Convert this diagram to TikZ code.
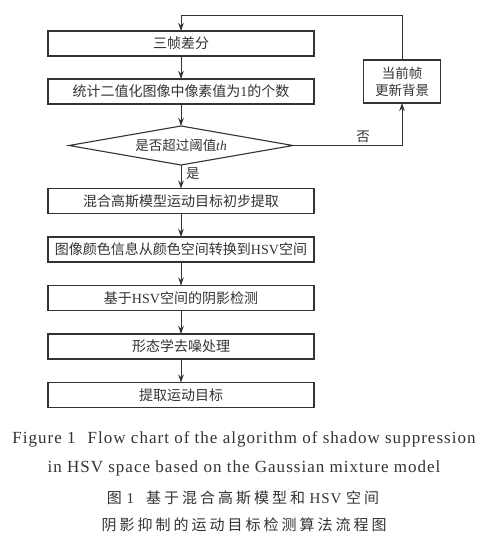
\documentclass[tikz,border=0pt]{standalone}
\usepackage{fontspec}
\setmainfont{Liberation Serif}
\newfontfamily\cjk{Noto Sans CJK SC}
\newfontfamily\cjkcap[LetterSpace=20]{Noto Sans CJK SC}
\newfontfamily\capfont[LetterSpace=6]{Liberation Serif}
\usetikzlibrary{shapes.geometric,arrows.meta}
\definecolor{ink}{HTML}{333333}
\tikzset{
  stepbox/.style={draw=ink, line width=1.2pt, minimum width=266pt, minimum height=25pt, inner sep=0pt, outer sep=0pt, font=\fontsize{14}{15}\selectfont\cjk, text=ink},
  sidebox/.style={draw=ink, line width=1.2pt, minimum width=77pt, minimum height=43pt, inner sep=0pt, outer sep=0pt, align=center, font=\fontsize{13.5}{17}\selectfont\cjk, text=ink},
  decision/.style={draw=ink, line width=1.1pt, diamond, aspect=5.74, minimum width=224pt, minimum height=39pt, inner sep=0pt, outer sep=0pt, font=\fontsize{13.5}{15}\selectfont\cjk, text=ink},
  flow/.style={draw=ink, line width=1pt, -{Stealth[length=8pt,width=5.5pt]}},
  lbl/.style={font=\fontsize{13.5}{15}\selectfont\cjk, text=ink, inner sep=0pt},
  capen/.style={font=\fontsize{17}{19}\selectfont\capfont, text=ink, inner sep=0pt},
  capcn/.style={font=\fontsize{15}{17}\selectfont\cjkcap, text=ink, inner sep=0pt}
}
\begin{document}
\begin{tikzpicture}[x=1pt,y=-1pt]
\useasboundingbox[fill=white] (0,0) rectangle (486,536);
\node[stepbox] (b1) at (181,43.5) {三帧差分};
\node[stepbox] (b2) at (181,91.5) {统计二值化图像中像素值为{\rmfamily 1}的个数};
\node[decision] (d) at (181,145.5) {是否超过阈值{\rmfamily\itshape th}};
\node[stepbox] (b3) at (181,201) {混合高斯模型运动目标初步提取};
\node[stepbox] (b4) at (181,249.5) {图像颜色信息从颜色空间转换到{\rmfamily HSV}空间};
\node[stepbox] (b5) at (181,298) {基于{\rmfamily HSV}空间的阴影检测};
\node[stepbox] (b6) at (181,346.5) {形态学去噪处理};
\node[stepbox] (b7) at (181,395) {提取运动目标};
\node[sidebox] (r) at (402,81.5) {当前帧\\更新背景};
\coordinate (c1) at (402,145.5);
\coordinate (c2) at (402,15);
\coordinate (c3) at (181,15);
\draw[flow] (b1) -- (b2);
\draw[flow] (b2) -- (d);
\draw[flow] (d) -- (b3);
\draw[flow] (b3) -- (b4);
\draw[flow] (b4) -- (b5);
\draw[flow] (b5) -- (b6);
\draw[flow] (b6) -- (b7);
\draw[flow] (d.east) -- (c1) -- (r.south);
\draw[flow] (r.north) -- (c2) -- (c3) -- (b1.north);
\node[lbl] (no) at (363,137) {否};
\node[lbl, anchor=west] (yes) at (186,174) {是};
\node[capen] (cap1) at (244,439) {Figure 1\hspace{12pt}Flow chart of the algorithm of shadow suppression};
\node[capen] (cap2) at (244,468) {in HSV space based on the Gaussian mixture model};
\node[capcn] (cap3) at (243,498) {图{\capfont\ 1}\hspace{12pt}基于混合高斯模型和{\capfont\ HSV }空间};
\node[capcn] (cap4) at (244,525) {阴影抑制的运动目标检测算法流程图};
\end{tikzpicture}
\end{document}
